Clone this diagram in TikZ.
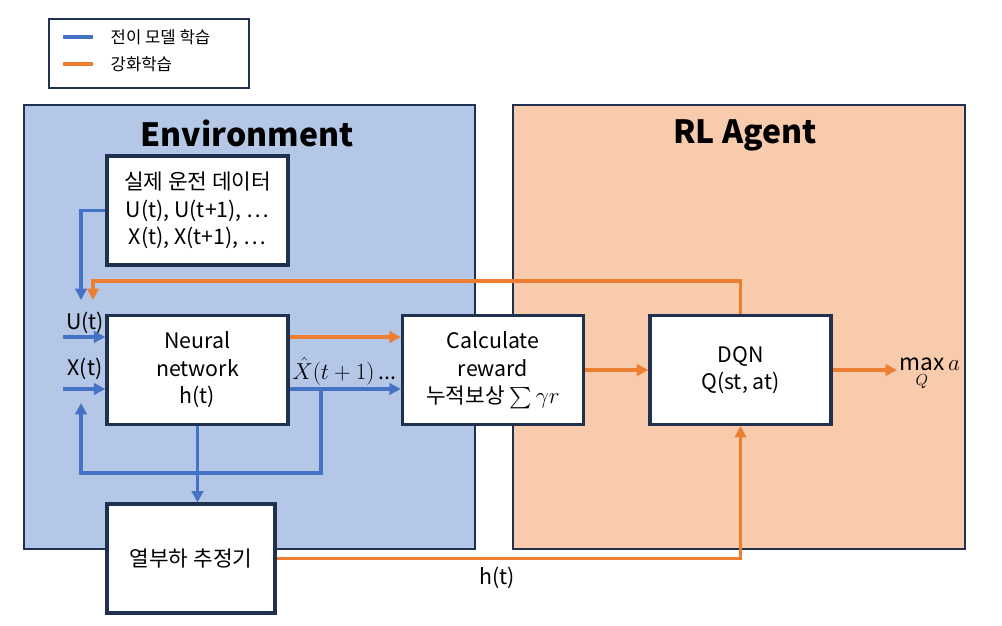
\documentclass[tikz,border=0pt]{standalone}
\usepackage{fontspec}
\usepackage{amsmath}
\usepackage{amssymb}
\usepackage{xcolor}
\setmainfont{Noto Sans CJK KR}
\usetikzlibrary{arrows.meta}
\definecolor{tlblue}{HTML}{4472C4}
\definecolor{rlorange}{HTML}{ED7D31}
\definecolor{envfill}{HTML}{B4C7E7}
\definecolor{agentfill}{HTML}{F8CBAD}
\definecolor{boxnavy}{HTML}{1F3050}
\tikzset{
  region/.style={draw=boxnavy, line width=0.8pt},
  blockbox/.style={draw=boxnavy, line width=2.6pt, fill=white, align=center,
    inner sep=0pt, minimum width=135.75pt, minimum height=81.5pt,
    font=\fontsize{16}{20.6}\selectfont},
  tlarrow/.style={tlblue, line width=2.5pt, -{Triangle[length=8.5pt,width=8.5pt]}},
  rlarrow/.style={rlorange, line width=2.5pt, -{Triangle[length=8.5pt,width=8.5pt]}},
  lbl/.style={font=\fontsize{16}{20.6}\selectfont, inner sep=0pt},
}
\begin{document}
\begin{tikzpicture}[x=0.75pt,y=-0.75pt]
	\useasboundingbox (0,0) rectangle (1002,625);
	% legend
	\node[draw=boxnavy, line width=0.8pt, minimum width=150pt, minimum height=51.75pt] (legend) at (149,53.5) {};
	\draw[tlblue, line width=2.5pt] (63,37) -- (93,37);
	\draw[rlorange, line width=2.5pt] (63,64) -- (93,64);
	\node[anchor=west, font=\fontsize{12.5}{14}\selectfont] (legtl) at (106,37) {전이 모델 학습};
	\node[anchor=west, font=\fontsize{12.5}{14}\selectfont] (legrl) at (106,64) {강화학습};
	% regions
	\draw[region, fill=envfill] (24,105) rectangle (475,549);
	\draw[region, fill=agentfill] (513,105) rectangle (965,549);
	\node[font=\fontsize{24}{28}\bfseries] (envtitle) at (247,133) {Environment};
	\node[font=\fontsize{24}{28}\bfseries] (agenttitle) at (745,135) {RL Agent};
	% blocks
	\node[blockbox] (data) at (197.5,210.5) {실제 운전 데이터\\U(t), U(t+1), \dots\\X(t), X(t+1), \dots};
	\node[blockbox] (nn) at (197.5,370) {Neural\\network\\h(t)};
	\node[blockbox] (calc) at (493,370) {Calculate\\reward\\누적보상 $\sum\gamma r$};
	\node[blockbox] (dqn) at (740.5,370) {DQN\\Q(st, at)};
	\node[blockbox, minimum width=126pt] (heat) at (191,558.5) {열부하 추정기};
	% connectors
	\coordinate (uin) at (81,300);
	\coordinate (rlin) at (93,300);
	\coordinate (rltop) at (93,281);
	\coordinate (uend) at (63,337);
	\coordinate (xend) at (63,389);
	\coordinate (fb) at (321,473);
	\coordinate (fbin) at (81,403);
	\coordinate (aout) at (897,370);
	\draw[tlarrow] (data.west) -| (uin);
	\draw[rlarrow] (dqn.north) |- (rltop) -- (rlin);
	\draw[tlarrow] (uend) -- (uend -| nn.west);
	\draw[tlarrow] (xend) -- (xend -| nn.west);
	\draw[rlarrow] (uend -| nn.east) -- (uend -| calc.west);
	\draw[tlarrow] (xend -| nn.east) -- (xend -| calc.west);
	\draw[tlarrow] (fb |- xend) -- (fb) -| (fbin);
	\draw[tlarrow] (nn.south) -- (nn.south |- heat.north);
	\draw[rlarrow] (calc.east) -- (dqn.west);
	\draw[rlarrow] (dqn.east) -- (aout);
	\draw[rlarrow] (heat.east) -| (dqn.south);
	% labels
	\node[lbl] (ulbl) at (85,323) {U(t)};
	\node[lbl] (xlbl) at (85,369) {X(t)};
	\node[lbl, anchor=west] (xhat) at (292,371) {$\hat{X}(t+1)$\,...};
	\node[lbl, anchor=west, font=\fontsize{17}{20}\selectfont] (maxq) at (899,374) {$\displaystyle\max_{Q} a$};
	\node[lbl] (hlbl) at (497,578) {h(t)};
\end{tikzpicture}
\end{document}
